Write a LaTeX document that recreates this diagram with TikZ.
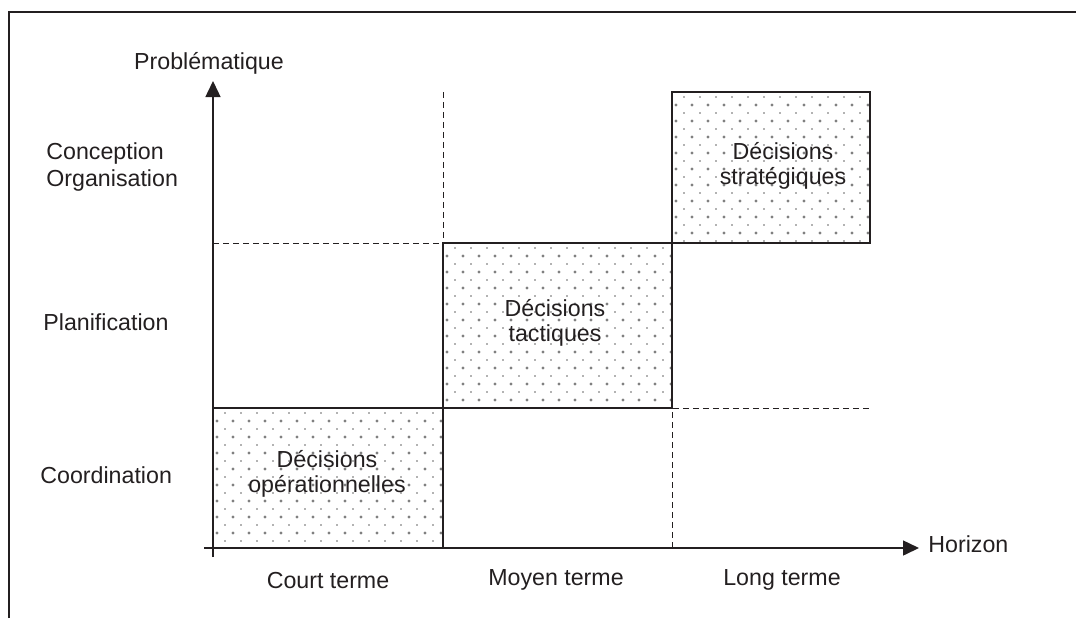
\documentclass[tikz,border=0pt]{standalone}
\usepackage{fontspec}
\setmainfont{Liberation Sans}
\usetikzlibrary{arrows.meta}
\definecolor{ink}{HTML}{231F20}
\definecolor{dotc}{HTML}{808080}
\tikzset{
  lbl/.style={inner sep=0pt, text=ink, font=\fontsize{11.6}{12.5}\selectfont},
  boxtxt/.style={lbl, align=center},
  axisline/.style={draw=ink, line width=0.75pt, -{Triangle[length=8pt,width=7.5pt]}},
  guide/.style={draw=ink, line width=0.5pt, dash pattern=on 3pt off 2pt},
  decbox/.style={draw=ink, line width=1pt},
  framel/.style={draw=ink, line width=0.7pt},
  dotbig/.style={fill=dotc},
  dotsmall/.style={fill=dotc!80!black}
}
\newcommand\dotsgrid[4]{%
  \begin{scope}
    \clip (#1,#2) rectangle (#3,#4);
    \foreach \i in {0,...,15} {
      \foreach \j in {0,...,10} {
        \fill[dotbig] (#1+4+16*\i, #2+13+16*\j) circle[radius=0.8pt];
        \fill[dotsmall] (#1+12+16*\i, #2+5+16*\j) circle[radius=0.45pt];
      }
    }
  \end{scope}}
\begin{document}
\begin{tikzpicture}[x=0.5pt,y=-0.5pt]
  \useasboundingbox (0,0) rectangle (1076,618);
  % frame (partially visible)
  \draw[framel] (9,618) -- (9,12) -- (1076,12);

  % dotted fills
  \dotsgrid{213}{408}{443}{548}
  \dotsgrid{443}{243}{672}{408}
  \dotsgrid{672}{92}{870}{243}

  % guides
  \coordinate (h1a) at (213,243); \coordinate (h1b) at (870,243);
  \coordinate (h2a) at (213,408); \coordinate (h2b) at (870,408);
  \coordinate (v1a) at (443,92);  \coordinate (v1b) at (443,548);
  \coordinate (v2a) at (672,92);  \coordinate (v2b) at (672,548);
  \draw[guide] (h1a) -- (h1b);
  \draw[guide] (h2a) -- (h2b);
  \draw[guide] (v1a) -- (v1b);
  \draw[guide] (v2a) -- (v2b);

  % decision boxes
  \draw[decbox] (213,408) rectangle (443,548);
  \draw[decbox] (443,243) rectangle (672,408);
  \draw[decbox] (672,92) rectangle (870,243);

  % axes
  \coordinate (yo) at (213,557);
  \coordinate (yt) at (213,81);
  \coordinate (xo) at (204,548);
  \coordinate (xt) at (919,548);
  \draw[axisline] (yo) -- (yt);
  \draw[axisline] (xo) -- (xt);

  % axis labels
  \node[lbl] (prob) at (209,63) {Problématique};
  \node[lbl, anchor=west] (hor) at (928,544) {Horizon};

  % row labels
  \node[lbl, align=left, anchor=west] (conc) at (46,167) {Conception\\[0.6pt]Organisation};
  \node[lbl, anchor=west] (plan) at (43,322) {Planification};
  \node[lbl, anchor=west] (coord) at (40,475) {Coordination};

  % column labels
  \node[lbl] (court) at (328,580) {Court terme};
  \node[lbl] (moyen) at (556,580) {Moyen terme};
  \node[lbl] (long) at (782,580) {Long terme};

  % box texts
  \node[boxtxt] (op) at (327,474) {Décisions\\opérationnelles};
  \node[boxtxt] (tac) at (555,323) {Décisions\\tactiques};
  \node[boxtxt] (str) at (783,166) {Décisions\\stratégiques};
\end{tikzpicture}
\end{document}
